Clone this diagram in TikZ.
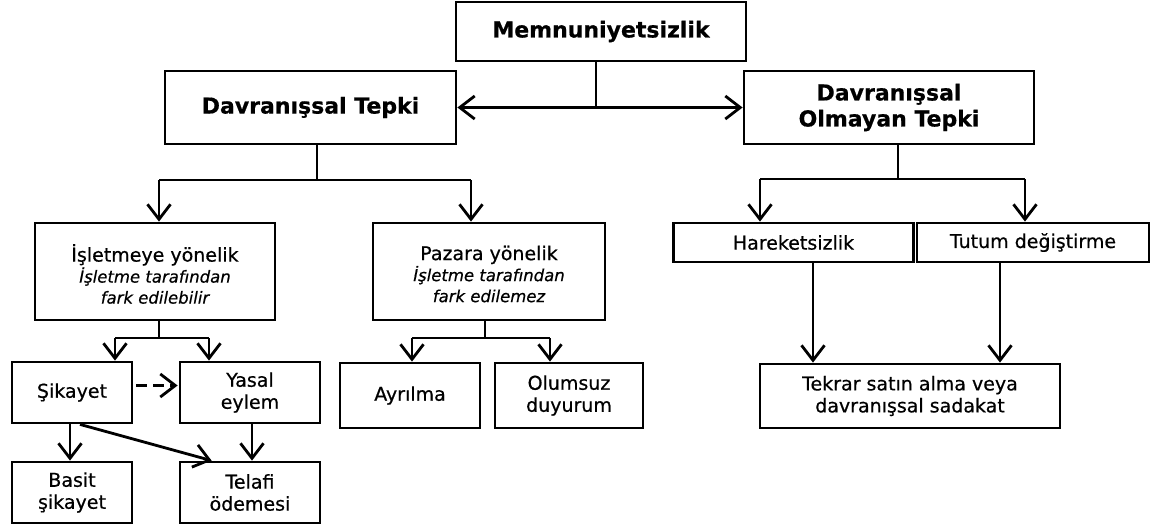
\documentclass[tikz,border=0pt]{standalone}
\usepackage{fontspec}
\setmainfont{DejaVu Sans}[UprightFeatures={FakeBold=0.6},ItalicFeatures={FakeBold=0.5},BoldFeatures={FakeBold=0.6}]
\usetikzlibrary{arrows.meta,calc}
\newcommand\itf{\fontsize{16.5}{20}\selectfont\itshape}
\begin{document}
\begin{tikzpicture}[x=1pt,y=-1pt,
  box/.style={draw, line width=2.8pt, inner sep=0pt, align=center, font=\fontsize{19}{22}\selectfont},
  bbox/.style={box, font=\bfseries\fontsize{22}{26}\selectfont},
  conn/.style={line width=2.8pt},
  tip/.tip={Straight Barb[length=15pt,width=23pt]},
  arr/.style={conn, -tip},
  darr/.style={conn, tip-tip}
]
\fill[white] (0,0) rectangle (1168,531);
\useasboundingbox (0,0) rectangle (1168,531);

% top level
\node[bbox, minimum width=290pt, minimum height=59pt] (M) at (601,31.5) {Memnuniyetsizlik};
\node[bbox, minimum width=291pt, minimum height=73pt] (DT) at (310.5,107.5) {Davranışsal Tepki};
\node[bbox, minimum width=290pt, minimum height=73pt] (DOT) at (889,107.5) {Davranışsal\\Olmayan Tepki};

% second level
\node[box, minimum width=240pt, minimum height=97pt] (IY) at (155,271.5) {};
\node[align=center, font=\fontsize{19}{21}\selectfont] (IYt) at (155,274) {İşletmeye yönelik\\{\itf İşletme tarafından}\\{\itf fark edilebilir}};
\node[box, minimum width=232pt, minimum height=97pt] (PY) at (489,271.5) {};
\node[align=center, font=\fontsize{19}{21}\selectfont] (PYt) at (489,274) {Pazara yönelik\\{\itf İşletme tarafından}\\{\itf fark edilemez}};
\node[box, minimum width=240pt, minimum height=39pt] (HA) at (793.5,242.5) {Hareketsizlik};
\node[box, minimum width=232pt, minimum height=39pt] (TD) at (1033,242.5) {Tutum değiştirme};

% third level
\node[box, minimum width=120pt, minimum height=61pt] (SK) at (72,392.5) {Şikayet};
\node[box, minimum width=140pt, minimum height=61pt] (YE) at (250,392.5) {Yasal\\eylem};
\node[box, minimum width=140pt, minimum height=65pt] (AY) at (410,395.5) {Ayrılma};
\node[box, minimum width=148pt, minimum height=65pt] (OD) at (569,395.5) {Olumsuz\\duyurum};
\node[box, minimum width=300pt, minimum height=64pt] (TK) at (910,396) {Tekrar satın alma veya\\davranışsal sadakat};

% fourth level
\node[box, minimum width=120pt, minimum height=61pt] (BS) at (72,492.5) {Basit\\şikayet};
\node[box, minimum width=140pt, minimum height=61pt] (TO) at (250,492.5) {Telafi\\ödemesi};

% connectors: top
\coordinate (jM) at (596,107.5);
\draw[line width=1.6pt] (M.south -| jM) -- (jM);
\draw[darr] (DT.east) -- (DOT.west);

% Davranışsal Tepki branch
\coordinate (jD) at (317,180);
\coordinate (bL1) at (159,180);
\coordinate (bL2) at (471,180);
\draw[conn] (DT.south -| jD) -- (jD);
\draw[conn] (bL1) -- (bL2);
\draw[arr] (bL1) -- (bL1 |- IY.north);
\draw[arr] (bL2) -- (bL2 |- PY.north);

% Davranışsal Olmayan Tepki branch
\coordinate (jO) at (898,179);
\coordinate (bR1) at (760,179);
\coordinate (bR2) at (1025,179);
\draw[conn] (DOT.south -| jO) -- (jO);
\draw[conn] (bR1) -- (bR2);
\draw[arr] (bR1) -- (bR1 |- HA.north);
\draw[arr] (bR2) -- (bR2 |- TD.north);
\coordinate (hx) at (813,0);
\coordinate (tx) at (1000,0);
\draw[arr] (HA.south -| hx) -- (TK.north -| hx);
\draw[arr] (TD.south -| tx) -- (TK.north -| tx);

% İşletmeye yönelik branch
\coordinate (jI) at (159,338);
\coordinate (bI1) at (115,338);
\coordinate (bI2) at (209,338);
\draw[conn] (IY.south -| jI) -- (jI);
\draw[conn] (bI1) -- (bI2);
\draw[arr] (bI1) -- (bI1 |- SK.north);
\draw[arr] (bI2) -- (bI2 |- YE.north);

% Pazara yönelik branch
\coordinate (jP) at (485,338);
\coordinate (bP1) at (412,338);
\coordinate (bP2) at (550,338);
\draw[conn] (PY.south -| jP) -- (jP);
\draw[conn] (bP1) -- (bP2);
\draw[arr] (bP1) -- (bP1 |- AY.north);
\draw[arr] (bP2) -- (bP2 |- OD.north);

% Şikayet / Yasal eylem
\draw[arr, dash pattern=on 11pt off 6pt] ($(SK.east)+(3,-7)$) -- ($(YE.west)+(-1,-7)$);
\coordinate (sx) at (70,0);
\coordinate (yx) at (252,0);
\draw[arr] (SK.south -| sx) -- (BS.north -| sx);
\draw[arr] ($(SK.south)+(8,0)$) -- ($(TO.north west)+(33,0)$);
\draw[arr] (YE.south -| yx) -- (TO.north -| yx);
\end{tikzpicture}
\end{document}
